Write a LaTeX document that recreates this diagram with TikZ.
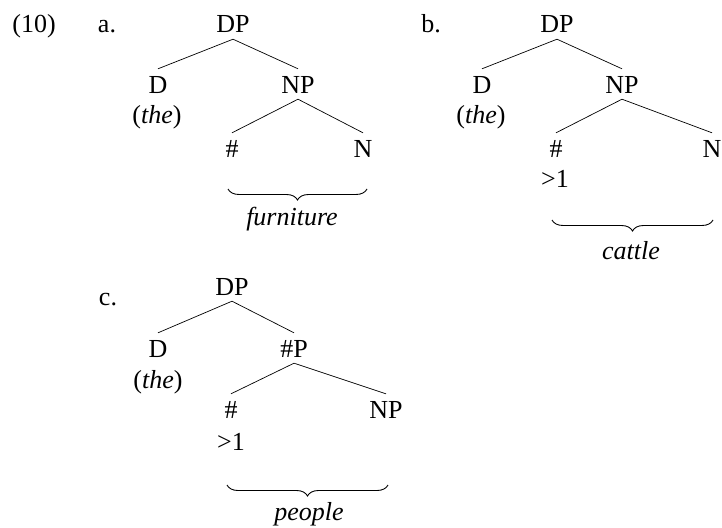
\documentclass[tikz,border=0pt]{standalone}
\usepackage{fontspec}
\setmainfont{Liberation Serif}
\usetikzlibrary{decorations.pathreplacing}
\tikzset{
  cat/.style={anchor=base, inner xsep=0pt, inner ysep=6pt, text height=18pt, text depth=0pt},
  lab/.style={anchor=base, inner sep=0pt},
  edge/.style={line width=0.7pt},
  ubrace/.style={decorate, line width=0.9pt, decoration={brace, amplitude=11pt}}
}
\begin{document}
\begin{tikzpicture}[x=1pt, y=-1pt, font=\fontsize{26}{30}\selectfont]
\useasboundingbox (0,0) rectangle (722,527);
% (10) a.
\node[lab] (ex) at (34,33) {(10)};
\node[lab] (la) at (107,33) {a.};
\node[cat] (aDP) at (233,33) {DP};
\node[cat] (aD) at (158,93) {D};
\node[cat] (aNP) at (298,93) {NP};
\node[lab] (athe) at (157,123) {(\textit{the})};
\node[cat] (ah) at (232,157) {\#};
\node[cat] (aN) at (363,157) {N};
\draw[edge] (aDP.south) -- (aD.north);
\draw[edge] (aDP.south) -- (aNP.north);
\draw[edge] (aNP.south) -- (ah.north);
\draw[edge] (aNP.south) -- (aN.north);
\coordinate (abl) at (228,189);
\coordinate (abr) at (367,189);
\draw[ubrace] (abr) -- (abl);
\node[lab] (afurn) at (292,225) {\textit{furniture}};
% b.
\node[lab] (lb) at (431,33) {b.};
\node[cat] (bDP) at (557,33) {DP};
\node[cat] (bD) at (482,93) {D};
\node[cat] (bNP) at (622,93) {NP};
\node[lab] (bthe) at (481,123) {(\textit{the})};
\node[cat] (bh) at (556,157) {\#};
\node[cat] (bN) at (712,157) {N};
\node[lab] (bgt) at (555,187) {>1};
\draw[edge] (bDP.south) -- (bD.north);
\draw[edge] (bDP.south) -- (bNP.north);
\draw[edge] (bNP.south) -- (bh.north);
\draw[edge] (bNP.south) -- (bN.north);
\coordinate (bbl) at (552,220);
\coordinate (bbr) at (713,220);
\draw[ubrace] (bbr) -- (bbl);
\node[lab] (bcat) at (631,259) {\textit{cattle}};
% c.
\node[lab] (lc) at (108,305) {c.};
\node[cat] (cDP) at (232,295) {DP};
\node[cat] (cD) at (158,357) {D};
\node[cat] (cHP) at (294,357) {\#P};
\node[lab] (cthe) at (158,388) {(\textit{the})};
\node[cat] (ch) at (231,418) {\#};
\node[cat] (cNP) at (386,418) {NP};
\node[lab] (cgt) at (231,450) {>1};
\draw[edge] (cDP.south) -- (cD.north);
\draw[edge] (cDP.south) -- (cHP.north);
\draw[edge] (cHP.south) -- (ch.north);
\draw[edge] (cHP.south) -- (cNP.north);
\coordinate (cbl) at (227,485);
\coordinate (cbr) at (388,485);
\draw[ubrace] (cbr) -- (cbl);
\node[lab] (cpeople) at (309,520) {\textit{people}};
\end{tikzpicture}
\end{document}
